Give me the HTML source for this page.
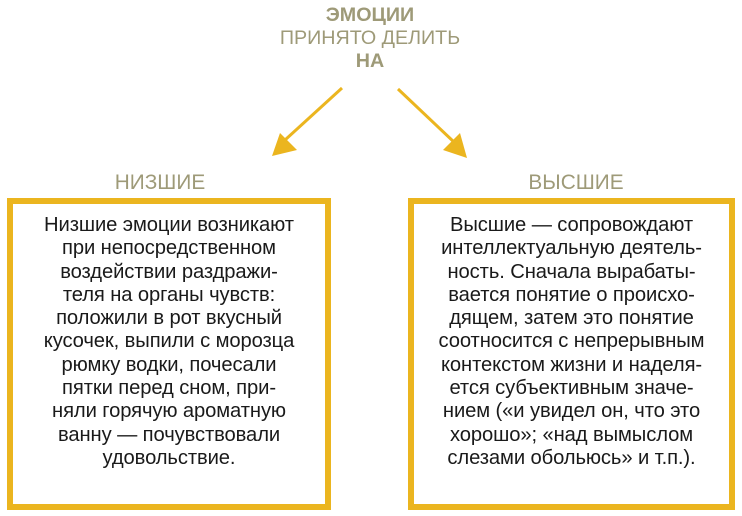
<!DOCTYPE html>
<html><head><meta charset="utf-8"><style>
body{margin:0;width:742px;height:516px;background:#fff;position:relative;font-family:"Liberation Sans",sans-serif;overflow:hidden}
.t{position:absolute;text-align:center;color:#9e9a78;font-size:19.7px;line-height:23px}
.box{position:absolute;border:6px solid #ebb51f;box-sizing:border-box;text-align:center;color:#1a1a1a;font-size:20.2px;line-height:23.3px;padding-top:10px;letter-spacing:-0.1px}
</style></head><body>
<div class="t" style="left:220px;width:300px;top:4px"><b>ЭМОЦИИ</b><br>ПРИНЯТО ДЕЛИТЬ<br><b>НА</b></div>
<svg width="742" height="516" style="position:absolute;left:0;top:0">
<line x1="342" y1="88" x2="285" y2="140" stroke="#ebb51f" stroke-width="3"/>
<polygon points="272,156 280,133 297,150" fill="#ebb51f"/>
<line x1="398" y1="89" x2="455" y2="143" stroke="#ebb51f" stroke-width="3"/>
<polygon points="467,158 443,150 460,133" fill="#ebb51f"/>
</svg>
<div class="t" style="left:60px;width:200px;top:171px;font-size:20.8px">НИЗШИЕ</div>
<div class="t" style="left:476px;width:200px;top:171px;font-size:20.8px">ВЫСШИЕ</div>
<div class="box" style="left:7px;top:198px;width:324px;height:312px">Низшие эмоции возникают<br>при непосредственном<br>воздействии раздражи-<br>теля на органы чувств:<br>положили в рот вкусный<br>кусочек, выпили с морозца<br>рюмку водки, почесали<br>пятки перед сном, при-<br>няли горячую ароматную<br>ванну — почувствовали<br>удовольствие.</div>
<div class="box" style="left:408px;top:198px;width:327px;height:312px">Высшие — сопровождают<br>интеллектуальную деятель-<br>ность. Сначала вырабаты-<br>вается понятие о происхо-<br>дящем, затем это понятие<br>соотносится с непрерывным<br>контекстом жизни и наделя-<br>ется субъективным значе-<br>нием («и увидел он, что это<br>хорошо»; «над вымыслом<br>слезами обольюсь» и т.п.).</div>
</body></html>
